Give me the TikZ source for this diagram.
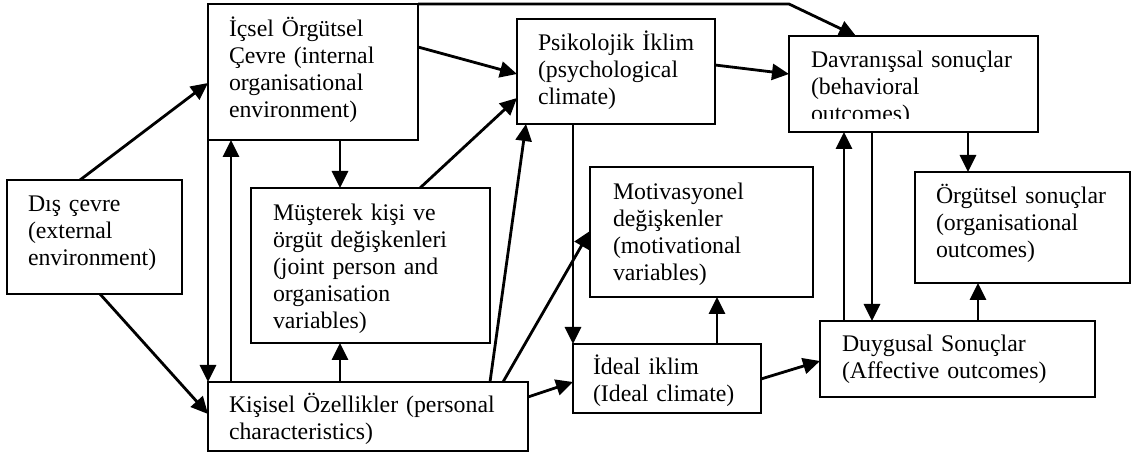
\documentclass[tikz,border=0pt]{standalone}
\usepackage{fontspec}
\setmainfont{Liberation Serif}
\usetikzlibrary{arrows.meta,calc}
\begin{document}
\begin{tikzpicture}[x=1pt,y=-1pt,
  box/.style={draw, line width=2.3pt, rectangle, inner sep=0pt, outer sep=0pt, anchor=north west},
  txt/.style={inner sep=0pt, outer sep=0pt, anchor=base west, text width=300pt, align=left,
              font=\fontsize{23.8}{27}\selectfont},
  arr/.style={line width=2.8pt, -{Triangle[length=17pt,width=16pt]}},
  line join=miter]
\useasboundingbox (0,0) rectangle (1136,454);

% boxes
\node[box, minimum width=175pt, minimum height=114pt] (dis) at (7,180) {};
\node[box, minimum width=210pt, minimum height=136pt] (ic)  at (208,4) {};
\node[box, minimum width=239pt, minimum height=155pt] (mus) at (251,188) {};
\node[box, minimum width=320pt, minimum height=69pt]  (kis) at (208,382) {};
\node[box, minimum width=198pt, minimum height=105pt] (psi) at (517,19) {};
\node[box, minimum width=223pt, minimum height=130pt] (mot) at (590,167) {};
\node[box, minimum width=188pt, minimum height=69pt]  (ide) at (573,344) {};
\node[box, minimum width=249pt, minimum height=96pt]  (dav) at (789,36) {};
\node[box, minimum width=215pt, minimum height=111pt] (org) at (915,172) {};
\node[box, minimum width=275pt, minimum height=76pt]  (duy) at (820,321) {};

% texts
\node[txt] (dis-t) at ($(dis.north west)+(21,32)$) {Dış çevre\\(external\\environment)};
\node[txt] (ic-t)  at ($(ic.north west)+(21,33)$)  {İçsel Örgütsel\\Çevre (internal\\organisational\\environment)};
\node[txt] (mus-t) at ($(mus.north west)+(22,33)$) {Müşterek kişi ve\\örgüt değişkenleri\\(joint person and\\organisation\\variables)};
\node[txt] (kis-t) at ($(kis.north west)+(21,31)$) {Kişisel Özellikler (personal\\characteristics)};
\node[txt] (psi-t) at ($(psi.north west)+(21,32)$) {Psikolojik İklim\\(psychological\\climate)};
\node[txt] (mot-t) at ($(mot.north west)+(23,33)$) {Motivasyonel\\değişkenler\\(motivational\\variables)};
\node[txt] (ide-t) at ($(ide.north west)+(20,31)$) {İdeal iklim\\(Ideal climate)};
\begin{scope}
  % the last line of this box is cut off by its lower margin
  \clip ($(dav.north west)+(1,1)$) rectangle ($(dav.south east)+(-1,-13)$);
  \node[txt] (dav-t) at ($(dav.north west)+(22,32)$) {Davranışsal sonuçlar\\(behavioral\\outcomes)};
\end{scope}
\node[txt] (org-t) at ($(org.north west)+(21,32)$) {Örgütsel sonuçlar\\(organisational\\outcomes)};
\node[txt] (duy-t) at ($(duy.north west)+(22,31)$) {Duygusal Sonuçlar\\(Affective outcomes)};

% connectors
\draw[arr] ($(dis.north west)+(73,0)$) -- ($(ic.north west)+(0,79)$);
\draw[arr] ($(dis.south west)+(93,0)$) -- ($(kis.north west)+(0,32)$);
\draw[arr] (ic.south west) -- (kis.north west);
\draw[arr] ($(kis.north west)+(23,0)$) -- ($(ic.south west)+(23,0)$);
\draw[arr] ($(ic.south west)+(132,0)$) -- ($(mus.north west)+(89,0)$);
\draw[arr] ($(kis.north west)+(132,0)$) -- ($(mus.south west)+(89,0)$);
\draw[arr] ($(ic.north east)+(0,43)$) -- ($(psi.north west)+(0,55)$);
\draw[arr] ($(mus.north west)+(169,0)$) -- ($(psi.north west)+(0,79)$);
\draw[arr] ($(kis.north west)+(282,0)$) -- ($(psi.south west)+(9,0)$);
\draw[arr] ($(kis.north west)+(295,0)$) -- ($(mot.north west)+(0,64)$);
\draw[arr] ($(kis.north east)+(0,15)$) -- ($(ide.north west)+(0,38)$);
\draw[arr] ($(psi.south west)+(56,0)$) -- (ide.north west);
\draw[arr] ($(ide.north west)+(144,0)$) -- ($(mot.south west)+(127,0)$);
\draw[arr] ($(ide.north east)+(0,35)$) -- ($(duy.north west)+(0,40)$);
\draw[arr] ($(psi.north east)+(0,46)$) -- ($(dav.north west)+(0,38)$);
\draw[arr] ($(dav.south west)+(179,0)$) -- ($(org.north west)+(53,0)$);
\draw[arr] ($(duy.north west)+(158,0)$) -- ($(org.south west)+(63,0)$);
\draw[arr] ($(duy.north west)+(24,0)$) -- ($(dav.south west)+(55,0)$);
\draw[arr] ($(dav.south west)+(83,0)$) -- ($(duy.north west)+(52,0)$);
\draw[arr] (ic.north east) -- (ic.north east -| dav.north west) -- ($(dav.north west)+(67,0)$);
\end{tikzpicture}
\end{document}
